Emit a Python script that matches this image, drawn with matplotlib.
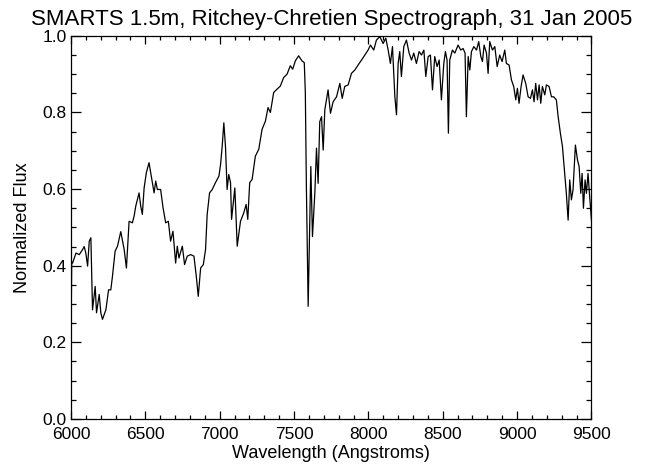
import numpy as np
import matplotlib
matplotlib.use("Agg")
import matplotlib.pyplot as plt
from matplotlib.ticker import MultipleLocator

plt.rcParams['font.family'] = ['Liberation Sans', 'DejaVu Sans']

# spectrum (wavelength in Angstroms, normalized flux)
wave = [6000, 6002, 6005, 6011, 6034, 6056, 6078, 6089, 6100, 6112, 6123, 6134,
        6145, 6163, 6172, 6190, 6201, 6212, 6235, 6253, 6268, 6279, 6297, 6313,
        6335, 6358, 6373, 6391, 6413, 6425, 6436, 6458, 6469, 6480, 6492, 6507,
        6525, 6536, 6559, 6570, 6581, 6603, 6619, 6637, 6655, 6670, 6686, 6704,
        6715, 6726, 6749, 6764, 6782, 6805, 6827, 6843, 6856, 6872, 6890, 6905,
        6916, 6932, 6950, 6972, 6995, 7006, 7017, 7028, 7039, 7050, 7061, 7073,
        7080, 7102, 7118, 7140, 7162, 7178, 7189, 7202, 7218, 7240, 7263, 7285,
        7308, 7325, 7341, 7363, 7386, 7408, 7430, 7453, 7475, 7491, 7509, 7531,
        7553, 7569, 7576, 7583, 7595, 7613, 7624, 7640, 7651, 7662, 7673, 7685,
        7696, 7707, 7729, 7745, 7763, 7786, 7808, 7824, 7841, 7864, 7886, 7909,
        7931, 7954, 7976, 7998, 8014, 8036, 8054, 8077, 8099, 8117, 8133, 8148,
        8162, 8178, 8189, 8200, 8211, 8222, 8238, 8256, 8274, 8290, 8305, 8323,
        8341, 8357, 8373, 8386, 8402, 8417, 8431, 8446, 8462, 8476, 8491, 8507,
        8518, 8529, 8538, 8547, 8565, 8581, 8603, 8621, 8637, 8650, 8659, 8671,
        8682, 8693, 8709, 8727, 8742, 8756, 8767, 8778, 8794, 8805, 8816, 8834,
        8850, 8866, 8883, 8899, 8917, 8928, 8946, 8962, 8977, 8991, 9002, 9013,
        9027, 9040, 9058, 9074, 9090, 9103, 9114, 9125, 9137, 9148, 9159, 9170,
        9186, 9197, 9215, 9231, 9246, 9264, 9276, 9291, 9305, 9320, 9331, 9343,
        9354, 9365, 9376, 9392, 9406, 9417, 9428, 9437, 9446, 9457, 9466, 9477,
        9488, 9500]
flux = [0.62, 0.27, 0.41, 0.407, 0.433, 0.429, 0.442, 0.45, 0.433, 0.399, 0.464, 0.473,
        0.285, 0.346, 0.277, 0.325, 0.277, 0.26, 0.285, 0.337, 0.337, 0.372, 0.438, 0.451,
        0.489, 0.442, 0.394, 0.516, 0.512, 0.53, 0.556, 0.59, 0.556, 0.534, 0.603, 0.643,
        0.669, 0.643, 0.59, 0.621, 0.599, 0.599, 0.552, 0.512, 0.516, 0.464, 0.49, 0.407,
        0.451, 0.42, 0.451, 0.403, 0.425, 0.429, 0.425, 0.372, 0.32, 0.394, 0.403, 0.442,
        0.534, 0.59, 0.599, 0.617, 0.634, 0.664, 0.712, 0.773, 0.712, 0.599, 0.638, 0.617,
        0.521, 0.603, 0.451, 0.516, 0.538, 0.56, 0.521, 0.617, 0.625, 0.686, 0.704, 0.756,
        0.778, 0.813, 0.8, 0.852, 0.861, 0.869, 0.891, 0.9, 0.922, 0.913, 0.935, 0.948,
        0.935, 0.93, 0.852, 0.608, 0.294, 0.659, 0.476, 0.59, 0.707, 0.615, 0.776, 0.789,
        0.702, 0.807, 0.859, 0.798, 0.828, 0.841, 0.876, 0.837, 0.868, 0.872, 0.902, 0.911,
        0.924, 0.937, 0.95, 0.963, 0.976, 0.963, 0.989, 0.998, 0.98, 0.994, 0.963, 0.928,
        0.972, 0.841, 0.794, 0.928, 0.959, 0.894, 0.972, 0.989, 0.955, 0.937, 0.955, 0.928,
        0.959, 0.95, 0.963, 0.894, 0.946, 0.95, 0.859, 0.946, 0.92, 0.937, 0.833, 0.928,
        0.959, 0.937, 0.746, 0.937, 0.963, 0.955, 0.976, 0.963, 0.967, 0.955, 0.789, 0.946,
        0.911, 0.959, 0.972, 0.963, 0.985, 0.946, 0.933, 0.976, 0.955, 0.902, 0.985, 0.963,
        0.972, 0.92, 0.95, 0.933, 0.963, 0.928, 0.924, 0.885, 0.868, 0.833, 0.863, 0.824,
        0.868, 0.898, 0.876, 0.841, 0.837, 0.859, 0.828, 0.876, 0.833, 0.872, 0.824, 0.868,
        0.846, 0.872, 0.868, 0.841, 0.841, 0.833, 0.789, 0.746, 0.711, 0.641, 0.589, 0.519,
        0.624, 0.572, 0.598, 0.715, 0.676, 0.659, 0.589, 0.641, 0.55, 0.624, 0.589, 0.641,
        0.58, 0.519]

xticks = [6000, 6500, 7000, 7500, 8000, 8500, 9000, 9500]
yticks = [0.0, 0.2, 0.4, 0.6, 0.8, 1.0]

fig = plt.figure(figsize=(6.45, 4.66), dpi=100)
ax = fig.add_axes([0.110, 0.101, 0.807, 0.822])

ax.plot(wave, flux, color='black', linewidth=0.9)

ax.set_xlim(6000, 9500)
ax.set_ylim(0.0, 1.0)
ax.set_xticks(xticks)
ax.set_yticks(yticks)
ax.set_yticklabels(['%.1f' % v for v in yticks])
ax.xaxis.set_minor_locator(MultipleLocator(100))
ax.yaxis.set_minor_locator(MultipleLocator(0.05))

ax.tick_params(which='both', direction='in', top=True, right=True, labelsize=12.5, colors='black')
ax.tick_params(axis='x', which='major', length=5.5, width=0.9, pad=6)
ax.tick_params(axis='x', which='minor', length=2.8, width=0.9)
ax.tick_params(axis='y', which='major', length=7.5, width=0.9, pad=3)
ax.tick_params(axis='y', which='minor', length=3.7, width=0.9)
for s in ax.spines.values():
    s.set_linewidth(0.9)

ax.set_xlabel('Wavelength (Angstroms)', fontsize=13, labelpad=2)
ax.set_ylabel('Normalized Flux', fontsize=13, labelpad=8)
ax.set_title('SMARTS 1.5m, Ritchey-Chretien Spectrograph, 31 Jan 2005', fontsize=16, pad=8)

fig.savefig('out.png', dpi=100)
